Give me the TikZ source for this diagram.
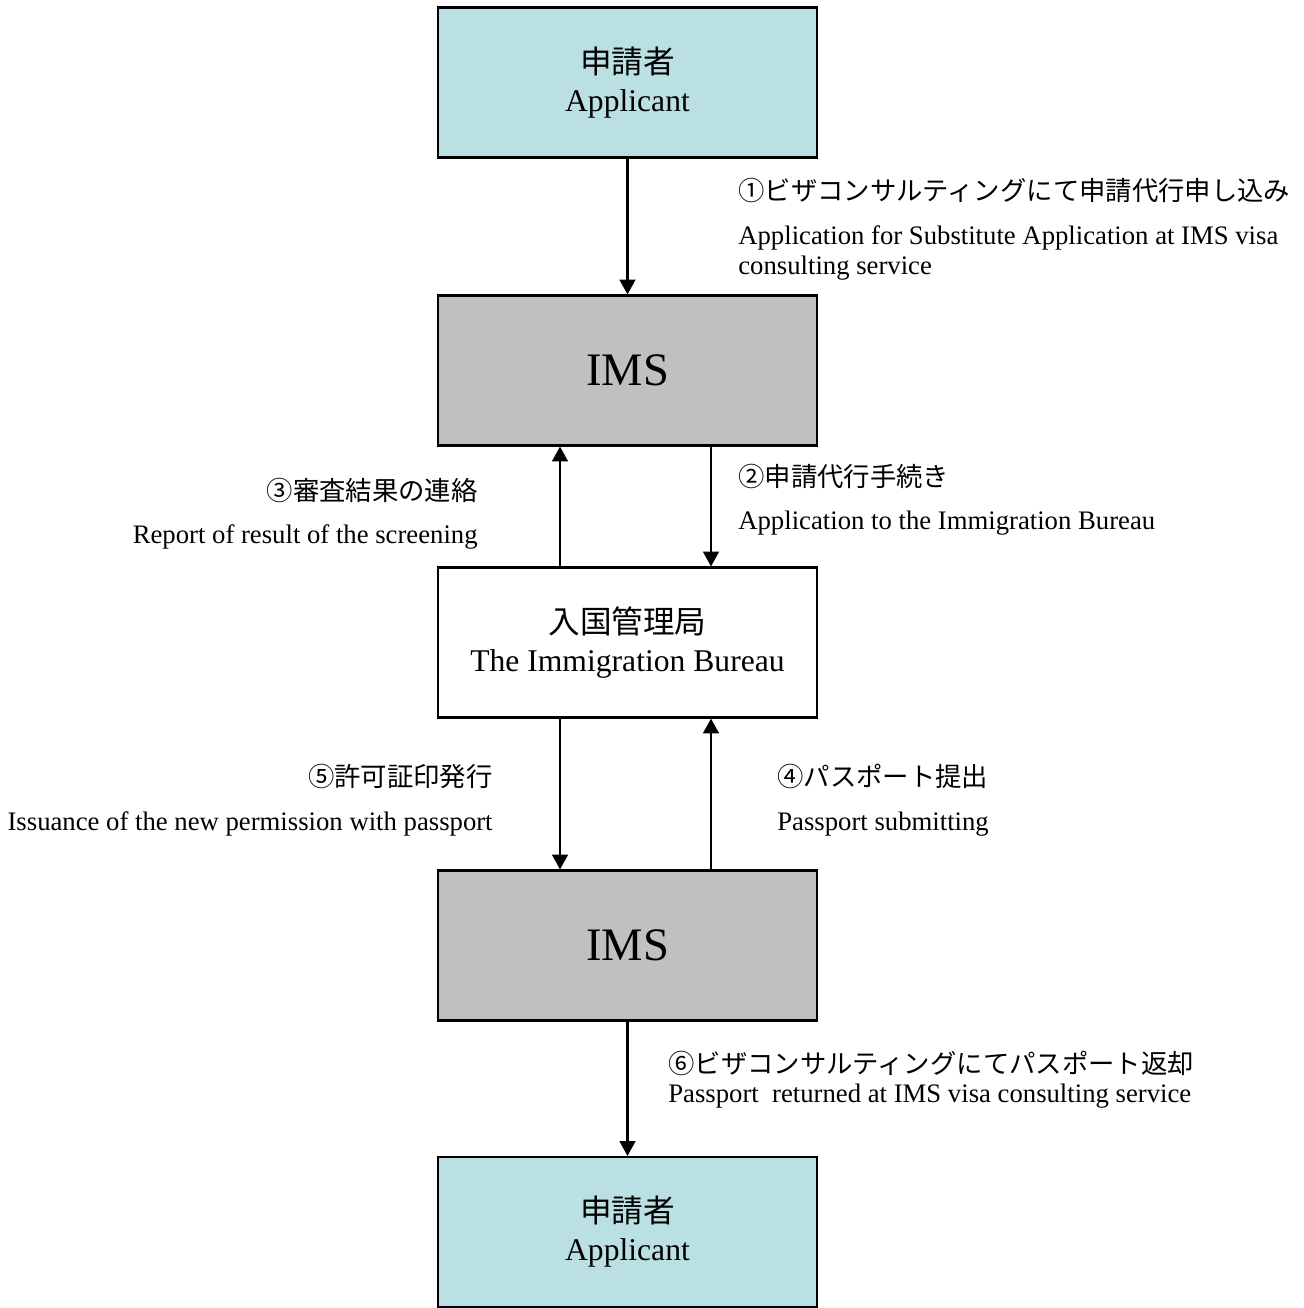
\documentclass[tikz,border=0pt]{standalone}
\usepackage{fontspec}
\setmainfont{Liberation Serif}
\newfontfamily\jp{Noto Sans CJK JP}
\usetikzlibrary{arrows.meta}

\definecolor{applcyan}{RGB}{187,224,227}
\definecolor{imsgray}{RGB}{192,192,192}

\tikzset{
  box/.style={draw, line width=1.2pt, minimum width=7.58cm, minimum height=3cm,
    align=center, font=\fontsize{18}{21.6}\selectfont},
  applicant/.style={box, fill=applcyan},
  ims/.style={box, fill=imsgray, font=\fontsize{26.5}{30}\selectfont},
  flow/.style={line width=1.3pt, -{Triangle[width=9pt,length=8.5pt]}},
  note/.style={inner sep=0pt, font=\fontsize{15.2}{18}\selectfont},
  jpnote/.style={inner sep=0pt, font=\jp\fontsize{15}{18}\selectfont}
}

\begin{document}
\begin{tikzpicture}[x=0.02cm, y=-0.02cm]
\useasboundingbox (0,0) rectangle (1304,1308);

% boxes
\node[applicant] (appl1) at (627.5,82.5) {{\jp 申請者}\\Applicant};
\node[ims] (ims1) at (627.5,370.5) {IMS};
\node[box] (bureau) at (627.5,642.5) {{\jp 入国管理局}\\The Immigration Bureau};
\node[ims] (ims2) at (627.5,945.5) {IMS};
\node[applicant] (appl2) at (627.5,1232) {{\jp 申請者}\\Applicant};

% arrows
\coordinate (lx) at (560,0);
\coordinate (rx) at (711,0);
\draw[flow] (appl1) -- (ims1);
\draw[flow] (rx |- ims1.south) -- (rx |- bureau.north);
\draw[flow] (lx |- bureau.north) -- (lx |- ims1.south);
\draw[flow] (lx |- bureau.south) -- (lx |- ims2.north);
\draw[flow] (rx |- ims2.north) -- (rx |- bureau.south);
\draw[flow] (ims2) -- (appl2);

% labels
\node[jpnote, anchor=west] (n1jp) at (738,190) {①ビザコンサルティングにて申請代行申し込み};
\node[note, anchor=west] (n1en) at (738,238) {Application for Substitute Application at IMS visa};
\node[note, anchor=west] (n1en2) at (738,268) {consulting service};

\node[jpnote, anchor=west] (n2jp) at (738,476) {②申請代行手続き};
\node[note, anchor=west] (n2en) at (738,523) {Application to the Immigration Bureau};

\node[jpnote, anchor=east] (n3jp) at (478,490) {③審査結果の連絡};
\node[note, anchor=east] (n3en) at (478,537) {Report of result of the screening};

\node[jpnote, anchor=west] (n4jp) at (777,776) {④パスポート提出};
\node[note, anchor=west] (n4en) at (777,824) {Passport submitting};

\node[jpnote, anchor=east] (n5jp) at (493,776) {⑤許可証印発行};
\node[note, anchor=east] (n5en) at (493,824) {Issuance of the new permission with passport};

\node[jpnote, anchor=west] (n6jp) at (668,1063) {⑥ビザコンサルティングにてパスポート返却};
\node[note, anchor=west] (n6en) at (668,1096) {Passport\ \ returned at IMS visa consulting service};

\end{tikzpicture}
\end{document}
